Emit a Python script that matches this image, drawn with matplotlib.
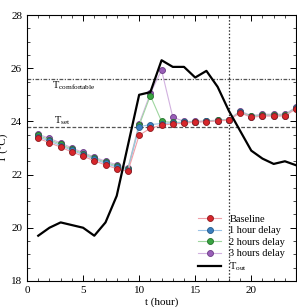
import matplotlib
matplotlib.use('Agg')
import matplotlib.pyplot as plt
from matplotlib.ticker import MultipleLocator

plt.rcParams['font.family'] = ['Liberation Serif', 'DejaVu Serif']
plt.rcParams['mathtext.fontset'] = 'stix'

hours = list(range(1, 25))

baseline = [23.36, 23.20, 23.03, 22.85, 22.69, 22.52, 22.36, 22.22, 22.12,
            23.48, 23.74, 23.86, 23.90, 23.93, 23.97, 23.99, 24.02, 24.04,
            24.33, 24.15, 24.20, 24.20, 24.20, 24.48]
delay1 = [23.42, 23.26, 23.09, 22.91, 22.75, 22.58, 22.42, 22.28, 22.17,
          23.80, 23.88, 23.92, 23.94, 23.96, 23.98, 24.00, 24.03, 24.05,
          24.35, 24.17, 24.22, 24.22, 24.22, 24.50]
delay2 = [23.47, 23.31, 23.14, 22.95, 22.79, 22.62, 22.46, 22.32, 22.21,
          23.85, 24.97, 24.00, 23.96, 23.97, 23.99, 24.01, 24.04, 24.06,
          24.37, 24.19, 24.24, 24.24, 24.24, 24.52]
delay3 = [23.52, 23.36, 23.19, 23.00, 22.83, 22.66, 22.50, 22.37, 22.25,
          23.92, 25.05, 25.93, 24.16, 24.00, 24.00, 24.02, 24.05, 24.07,
          24.39, 24.22, 24.27, 24.27, 24.27, 24.54]
t_out = [19.7, 20.0, 20.2, 20.1, 20.0, 19.7, 20.2, 21.2, 23.1, 25.0, 25.1, 26.3,
         26.05, 26.05, 25.65, 25.9, 25.3, 24.4, 23.65, 22.9, 22.6, 22.4, 22.5, 22.35]

t_comfortable = 25.6
t_set = 23.8
t_mark = 18

series = [
    ('Baseline', baseline, '#d7262b', '#8e1a1e', '#f0a0a8'),
    ('1 hour delay', delay1, '#3a7fbf', '#255a8a', '#9cc3e6'),
    ('2 hours delay', delay2, '#3aa442', '#22702a', '#9fd6a0'),
    ('3 hours delay', delay3, '#9a5fb8', '#6a3a85', '#d2b2e0'),
]

fig = plt.figure(figsize=(2.97, 3.07), dpi=100)
ax = fig.add_axes([0.091, 0.085, 0.906, 0.866])

ax.axhline(t_comfortable, color='#555555', lw=0.9, ls=(0, (3, 1.2, 1, 1.2)))
ax.axhline(t_set, color='#555555', lw=0.9, ls=(0, (3, 1.5)))
ax.axvline(t_mark, color='#333333', lw=0.9, ls=(0, (1.2, 1.5)))

handles = []
for name, vals, fc, ec, lc in reversed(series):
    h, = ax.plot(hours, vals, '-o', color=lc, lw=0.8, mfc=fc, mec=ec,
                 mew=0.6, ms=4.3, label=name)
    handles.insert(0, h)
h, = ax.plot(hours, t_out, color='black', lw=1.6, label=r'T$_{\mathregular{out}}$')
handles.append(h)

ax.text(2.2, 25.25, r'T$_{\mathregular{comfortable}}$', fontsize=7.5)
ax.text(2.4, 23.93, r'T$_{\mathregular{set}}$', fontsize=7.5)

ax.set_xlim(0, 24)
ax.set_ylim(18, 28)
ax.xaxis.set_major_locator(MultipleLocator(5))
ax.xaxis.set_minor_locator(MultipleLocator(1))
ax.yaxis.set_major_locator(MultipleLocator(2))
ax.yaxis.set_minor_locator(MultipleLocator(0.5))
ax.tick_params(which='both', direction='in', top=True, right=True, labelsize=8)
ax.tick_params(which='major', length=4, width=0.7)
ax.tick_params(which='minor', length=2, width=0.5)
for s in ax.spines.values():
    s.set_linewidth(0.8)

ax.set_xlabel('t (hour)', fontsize=8, labelpad=2)
ax.set_ylabel('T (\u00b0C)', fontsize=8)
ax.yaxis.set_label_coords(-0.068, 0.5)

ax.legend(handles=handles, loc='lower right', bbox_to_anchor=(0.975, 0.015),
          frameon=False, fontsize=7.5, handlelength=2.2, handletextpad=0.8,
          labelspacing=0.2, borderaxespad=0)

fig.savefig('out.png', dpi=100)
